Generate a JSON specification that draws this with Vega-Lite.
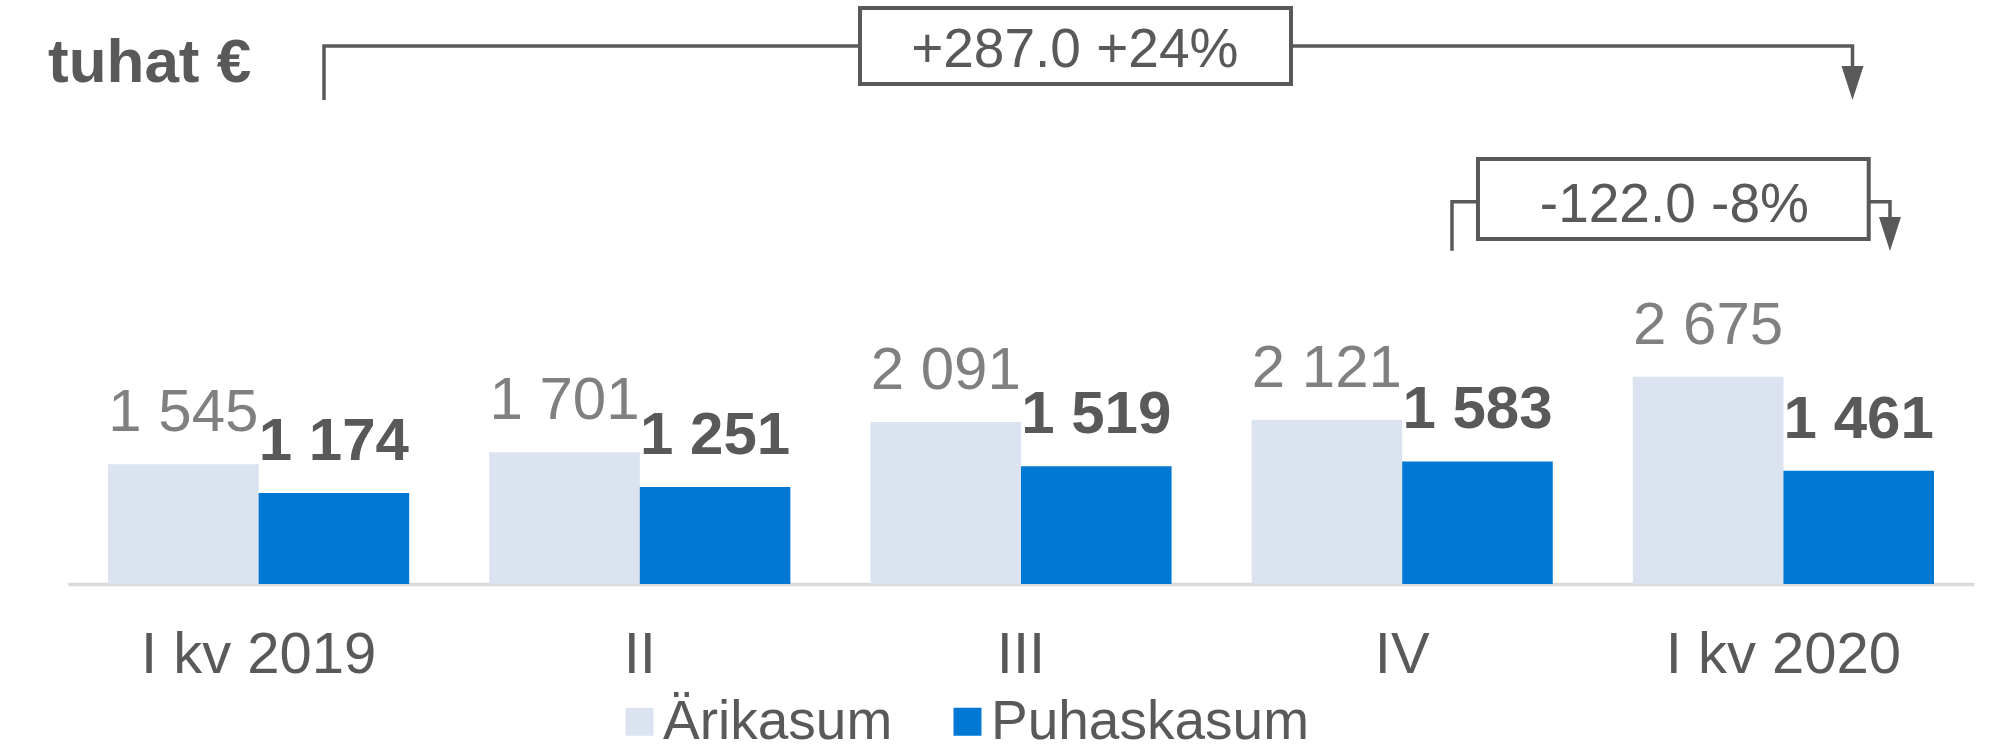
{
  "$schema": "https://vega.github.io/schema/vega-lite/v6.json",
  "width": 1906,
  "height": 584,
  "autosize": {"type": "none"},
  "padding": {"left": 68, "top": 0, "right": 18, "bottom": 166},
  "background": "white",
  "config": {
    "view": {"stroke": null},
    "font": "Liberation Sans",
    "locale": {"number": {"decimal": ",", "thousands": " ", "grouping": [3], "currency": ["", " €"]}}
  },
  "datasets": {
    "bars": [
      {"kv": "I kv 2019", "seeria": "Ärikasum", "v": 1545},
      {"kv": "I kv 2019", "seeria": "Puhaskasum", "v": 1174},
      {"kv": "II", "seeria": "Ärikasum", "v": 1701},
      {"kv": "II", "seeria": "Puhaskasum", "v": 1251},
      {"kv": "III", "seeria": "Ärikasum", "v": 2091},
      {"kv": "III", "seeria": "Puhaskasum", "v": 1519},
      {"kv": "IV", "seeria": "Ärikasum", "v": 2121},
      {"kv": "IV", "seeria": "Puhaskasum", "v": 1583},
      {"kv": "I kv 2020", "seeria": "Ärikasum", "v": 2675},
      {"kv": "I kv 2020", "seeria": "Puhaskasum", "v": 1461}
    ],
    "paths": [
      {"id": "a", "o": 1, "x": 0.6716, "y": 6249},
      {"id": "a", "o": 2, "x": 0.6716, "y": 6946},
      {"id": "a", "o": 3, "x": 4.6813, "y": 6946},
      {"id": "a", "o": 4, "x": 4.6813, "y": 6688},
      {"id": "b", "o": 1, "x": 3.6306, "y": 4303},
      {"id": "b", "o": 2, "x": 3.6306, "y": 4936},
      {"id": "b", "o": 3, "x": 4.7796, "y": 4936},
      {"id": "b", "o": 4, "x": 4.7796, "y": 4734}
    ],
    "boxes": [
      {"x": 2.0776, "x2": 3.2083, "y": 7437, "y2": 6456},
      {"x": 3.6988, "x2": 4.7238, "y": 5487, "y2": 4454}
    ],
    "arrows": [
      {"x": 4.6813, "y": 6468},
      {"x": 4.7796, "y": 4519}
    ],
    "notes": [
      {"x": 2.641, "y": 6679, "t": "+287.0 +24%"},
      {"x": 4.214, "y": 4678, "t": "-122.0 -8%"}
    ],
    "unit": [
      {"x": -0.0525, "y": 6481, "t": "tuhat €"}
    ]
  },
  "layer": [
    {
      "data": {"name": "bars"},
      "encoding": {
        "x": {
          "field": "kv", "type": "nominal",
          "sort": ["I kv 2019", "II", "III", "IV", "I kv 2020"],
          "scale": {"paddingInner": 0.21, "paddingOuter": 0.105},
          "axis": {
            "title": null, "labelFontSize": 58, "labelColor": "#595959", "labelFont": "Liberation Sans",
            "labelAngle": 0, "labelLimit": 0, "ticks": false, "tickSize": 0, "labelPadding": 88, "labelBaseline": "alphabetic",
            "domainColor": "#d9d9d9", "domainWidth": 3.5, "grid": false
          }
        },
        "xOffset": {
          "field": "seeria", "type": "nominal", "sort": ["Ärikasum", "Puhaskasum"],
          "scale": {"paddingInner": 0, "paddingOuter": 0}
        },
        "y": {
          "field": "v", "type": "quantitative",
          "scale": {"domain": [0, 7540], "nice": false, "zero": true}, "axis": null
        }
      },
      "layer": [
        {
          "mark": {"type": "bar"},
          "encoding": {
            "color": {
              "field": "seeria", "type": "nominal", "sort": ["Ärikasum", "Puhaskasum"],
              "scale": {"domain": ["Ärikasum", "Puhaskasum"], "range": ["#dae3ef", "#0078d4"]},
              "legend": {
                "title": null, "orient": "none", "legendX": 544, "legendY": 694, "direction": "horizontal",
                "symbolType": "square", "symbolSize": 784, "symbolStrokeWidth": 0,
                "labelFontSize": 55, "labelColor": "#595959", "labelFont": "Liberation Sans",
                "labelOffset": -4, "columnPadding": 47, "padding": 0, "labelLimit": 0
              }
            }
          }
        },
        {
          "transform": [{"filter": "datum.seeria == 'Ärikasum'"}],
          "mark": {"type": "text", "baseline": "alphabetic", "dy": -33, "fontSize": 60, "color": "#808080", "font": "Liberation Sans"},
          "encoding": {"text": {"field": "v", "type": "quantitative", "format": ",d"}}
        },
        {
          "transform": [{"filter": "datum.seeria == 'Puhaskasum'"}],
          "mark": {"type": "text", "baseline": "alphabetic", "dy": -33, "fontSize": 60, "fontWeight": "bold", "color": "#595959", "font": "Liberation Sans"},
          "encoding": {"text": {"field": "v", "type": "quantitative", "format": ",d"}}
        }
      ]
    },
    {
      "encoding": {
        "x": {"field": "x", "type": "quantitative", "scale": {"domain": [0, 5], "nice": false, "zero": false}, "axis": null},
        "y": {"field": "y", "type": "quantitative", "scale": {"domain": [0, 7540], "nice": false, "zero": true}, "axis": null}
      },
      "layer": [
        {
          "data": {"name": "paths"},
          "mark": {"type": "line", "stroke": "#595959", "strokeWidth": 3.5, "strokeJoin": "miter", "strokeCap": "butt"},
          "encoding": {"detail": {"field": "id"}, "order": {"field": "o"}}
        },
        {
          "data": {"name": "boxes"},
          "mark": {"type": "rect", "fill": "white", "stroke": "#595959", "strokeWidth": 4},
          "encoding": {"x2": {"field": "x2"}, "y2": {"field": "y2"}}
        },
        {
          "data": {"name": "arrows"},
          "mark": {"type": "point", "shape": "M-0.647,-1L0.647,-1L0,1Z", "size": 1156, "filled": true, "color": "#595959", "opacity": 1, "strokeWidth": 0},
          "encoding": {}
        },
        {
          "data": {"name": "notes"},
          "mark": {"type": "text", "align": "center", "baseline": "alphabetic", "fontSize": 55, "color": "#595959", "font": "Liberation Sans"},
          "encoding": {"text": {"field": "t"}}
        },
        {
          "data": {"name": "unit"},
          "mark": {"type": "text", "align": "left", "baseline": "alphabetic", "fontSize": 62, "fontWeight": "bold", "color": "#595959", "font": "Liberation Sans"},
          "encoding": {"text": {"field": "t"}}
        }
      ]
    }
  ],
  "resolve": {"scale": {"x": "independent"}}
}
